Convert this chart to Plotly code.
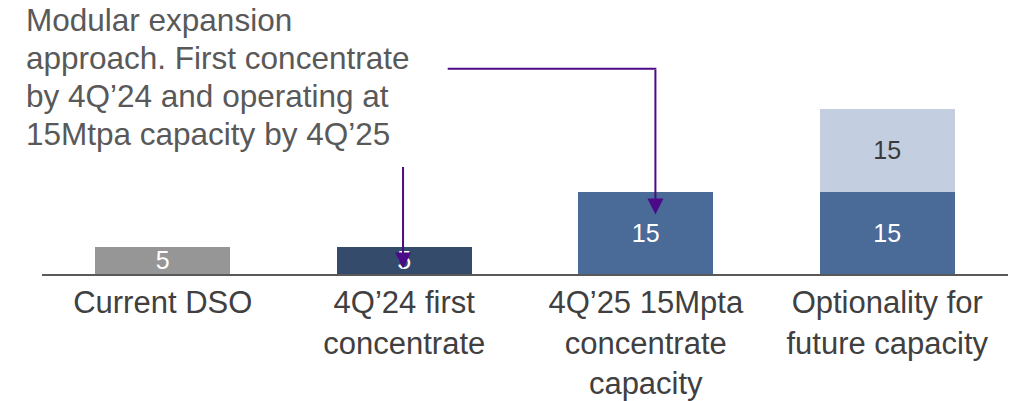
import plotly.graph_objects as go

# ---- data ----
categories = [
    "Current DSO",
    "4Q\u201924 first<br>concentrate",
    "4Q\u201925 15Mpta<br>concentrate<br>capacity",
    "Optionality for<br>future capacity",
]
base_values = [5, 5, 15, 15]
option_values = [None, None, None, 15]
base_colors = ["#969696", "#344B6B", "#4A6A98", "#4A6A98"]
option_color = "#C3CEE0"
note_lines = [
    "Modular expansion",
    "approach. First concentrate",
    "by 4Q\u201924 and operating at",
    "15Mtpa capacity by 4Q\u201925",
]

FONT = "Liberation Sans, Arial, sans-serif"
PURPLE = "#4B0A86"

fig = go.Figure()
fig.add_trace(go.Bar(
    x=categories, y=base_values,
    marker=dict(color=base_colors, line=dict(width=0)),
    text=[str(v) for v in base_values],
    textposition="inside", insidetextanchor="middle", textangle=0,
    constraintext="none",
    textfont=dict(family=FONT, size=25, color="white"),
    hoverinfo="skip",
))
fig.add_trace(go.Bar(
    x=categories, y=option_values,
    marker=dict(color=option_color, line=dict(width=0)),
    text=["" if v is None else str(v) for v in option_values],
    textposition="inside", insidetextanchor="middle", textangle=0,
    constraintext="none",
    textfont=dict(family=FONT, size=25, color="#3A3A3A"),
    hoverinfo="skip",
))

# plot area: 220 px tall for 40 units -> 5.5 px / unit
PLOT_TOP, PLOT_BOTTOM = 54, 274
PLOT_H = PLOT_BOTTOM - PLOT_TOP

annotations = []
line_centers_px = [20, 58, 96, 134]
for txt, ypx in zip(note_lines, line_centers_px):
    annotations.append(dict(
        text=txt, xref="paper", yref="paper",
        x=(24 - 42) / 966, y=(PLOT_BOTTOM - ypx) / PLOT_H,
        xanchor="left", yanchor="middle", showarrow=False,
        font=dict(family=FONT, size=31.5, color="#595959"),
    ))

# arrow 1 : into 4Q'24 bar
annotations.append(dict(
    x=0.995, y=1.0, xref="x", yref="y", text="", showarrow=True,
    ax=0, ay=-103, arrowhead=2, arrowsize=1.6, arrowwidth=2, arrowcolor=PURPLE,
))
# arrow 2 : elbow into 4Q'25 bar
annotations.append(dict(
    x=2.04, y=10.8, xref="x", yref="y", text="", showarrow=True,
    ax=0, ay=-146, arrowhead=2, arrowsize=1.6, arrowwidth=2, arrowcolor=PURPLE,
))

shapes = [dict(
    type="line", xref="x", yref="y",
    x0=1.18, x1=2.044, y0=37.3, y1=37.3,
    line=dict(color=PURPLE, width=2),
)]

fig.update_layout(
    width=1018, height=401,
    margin=dict(l=42, r=10, t=PLOT_TOP, b=401 - PLOT_BOTTOM, pad=0, autoexpand=False),
    barmode="stack", bargap=0.44,
    showlegend=False,
    plot_bgcolor="white", paper_bgcolor="white",
    xaxis=dict(
        type="category", range=[-0.5, 3.5], automargin=False,
        showline=True, linecolor="#595959", linewidth=2,
        showgrid=False, ticks="", zeroline=False,
        tickfont=dict(family=FONT, size=31, color="#404040"),
        fixedrange=True,
    ),
    yaxis=dict(range=[0, 40], visible=False, fixedrange=True, automargin=False),
    annotations=annotations,
    shapes=shapes,
)

fig.write_html("out.html")
